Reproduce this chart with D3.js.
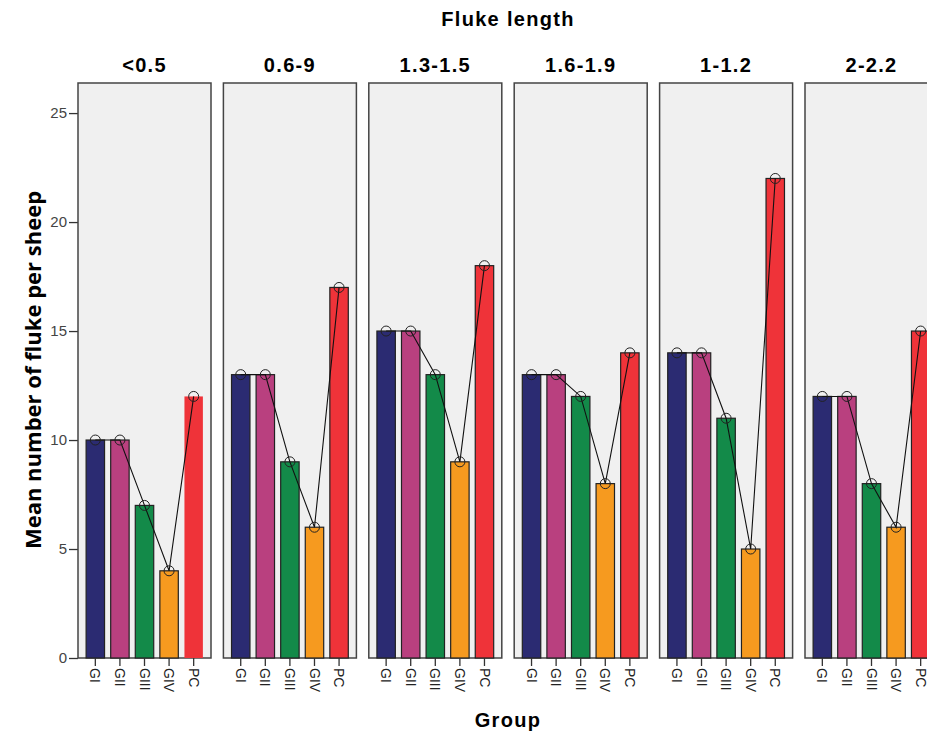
<!DOCTYPE html>
<html>
<head>
<meta charset="utf-8">
<script src="https://cdnjs.cloudflare.com/ajax/libs/d3/7.8.5/d3.min.js"></script>
<style>
body { margin: 0; background: #fff; }
text { font-family: "Liberation Sans", Arial, sans-serif; }
</style>
</head>
<body>
<div id="chart"></div>
<script>
// data
var panels = ["<0.5", "0.6-9", "1.3-1.5", "1.6-1.9", "1-1.2", "2-2.2"];
var groups = ["GI", "GII", "GIII", "GIV", "PC"];
var colors = ["#2b2b72", "#b9407f", "#138a49", "#f69a1f", "#ef3339"];
var means = [
	[10, 10, 7, 4, 12],
	[13, 13, 9, 6, 17],
	[15, 15, 13, 9, 18],
	[13, 13, 12, 8, 14],
	[14, 14, 11, 5, 22],
	[12, 12, 8, 6, 15]
];
var yTicks = [0, 5, 10, 15, 20, 25];

var width = 927, height = 736;
var plotTop = 83, plotBottom = 658;
var left = 78, panelW = 133, pitch = 145.4;
var font = '"Liberation Sans", Arial, sans-serif';

var svg = d3.select('#chart')
	.append('svg')
	.attr('width', width)
	.attr('height', height);

var y = d3.scaleLinear().domain([0, 26.38]).range([plotBottom, plotTop]);

var px = d3.scaleBand().domain(panels)
	.range([left, left + pitch * panels.length])
	.paddingInner(0);

var x = d3.scaleBand().domain(groups)
	.range([0, panelW])
	.paddingInner(0.25)
	.paddingOuter(0.33);

// y axis on the first panel
var yAxis = svg.append('g')
	.attr('transform', 'translate(' + left + ',0)')
	.call(d3.axisLeft(y).tickValues(yTicks).tickSize(9).tickPadding(2));
yAxis.select('.domain').remove();
yAxis.selectAll('line').attr('stroke', '#333').attr('stroke-width', 1.3);
yAxis.selectAll('text').attr('font-size', 15).attr('fill', '#444')
	.style('font-family', font);

panels.forEach(function (p, i) {
	var g = svg.append('g').attr('transform', 'translate(' + px(p) + ',0)');

	g.append('rect')
		.attr('x', 0).attr('y', plotTop)
		.attr('width', panelW).attr('height', plotBottom - plotTop)
		.attr('fill', '#f0f0f0')
		.attr('stroke', '#444').attr('stroke-width', 1.5);

	g.append('text')
		.attr('x', panelW / 2).attr('y', 72)
		.attr('text-anchor', 'middle')
		.attr('font-size', 20).attr('font-weight', 'bold')
		.attr('letter-spacing', 1.3)
		.text(p);

	var vals = means[i];
	g.selectAll('rect.bar')
		.data(vals)
		.enter().append('rect')
		.attr('class', 'bar')
		.attr('x', function (d, j) { return x(groups[j]); })
		.attr('y', function (d) { return y(d); })
		.attr('width', x.bandwidth())
		.attr('height', function (d) { return plotBottom - y(d); })
		.attr('fill', function (d, j) { return colors[j]; })
		.attr('stroke', function (d, j) { return (i == 0 && j == 4) ? 'none' : '#222'; })
		.attr('stroke-width', 1.2);

	var line = d3.line()
		.x(function (d, j) { return x(groups[j]) + x.bandwidth() / 2; })
		.y(function (d) { return y(d); });
	g.append('path')
		.datum(vals)
		.attr('d', line)
		.attr('fill', 'none')
		.attr('stroke', '#111')
		.attr('stroke-width', 1.1);

	g.selectAll('circle')
		.data(vals)
		.enter().append('circle')
		.attr('cx', function (d, j) { return x(groups[j]) + x.bandwidth() / 2; })
		.attr('cy', function (d) { return y(d); })
		.attr('r', 5)
		.attr('fill', 'none')
		.attr('stroke', '#222')
		.attr('stroke-width', 1);

	// x axis ticks
	var xa = g.append('g')
		.attr('transform', 'translate(0,' + plotBottom + ')')
		.call(d3.axisBottom(x).tickSize(8).tickPadding(3));
	xa.select('.domain').remove();
	xa.selectAll('line').attr('stroke', '#333').attr('stroke-width', 1.3);
	xa.selectAll('text')
		.attr('font-size', 14).attr('fill', '#222')
		.style('font-family', font)
		.attr('text-anchor', 'start')
		.attr('dy', '0.35em')
		.attr('x', 0).attr('y', 0)
		.attr('transform', 'translate(0,10) rotate(90)');
});

var mid = left + (pitch * (panels.length - 1) + panelW) / 2;

svg.append('text')
	.attr('x', mid).attr('y', 26)
	.attr('text-anchor', 'middle')
	.attr('font-size', 20).attr('font-weight', 'bold')
	.attr('letter-spacing', 1.3)
	.text('Fluke length');

svg.append('text')
	.attr('x', mid).attr('y', 727)
	.attr('text-anchor', 'middle')
	.attr('font-size', 20).attr('font-weight', 'bold')
	.attr('letter-spacing', 1.3)
	.text('Group');

svg.append('text')
	.attr('transform', 'translate(41,370) rotate(-90)')
	.attr('text-anchor', 'middle')
	.attr('font-size', 22).attr('font-weight', 'bold')
	.style('font-family', '"Open Sans", sans-serif')
	.text('Mean number of fluke per sheep');
</script>
</body>
</html>
